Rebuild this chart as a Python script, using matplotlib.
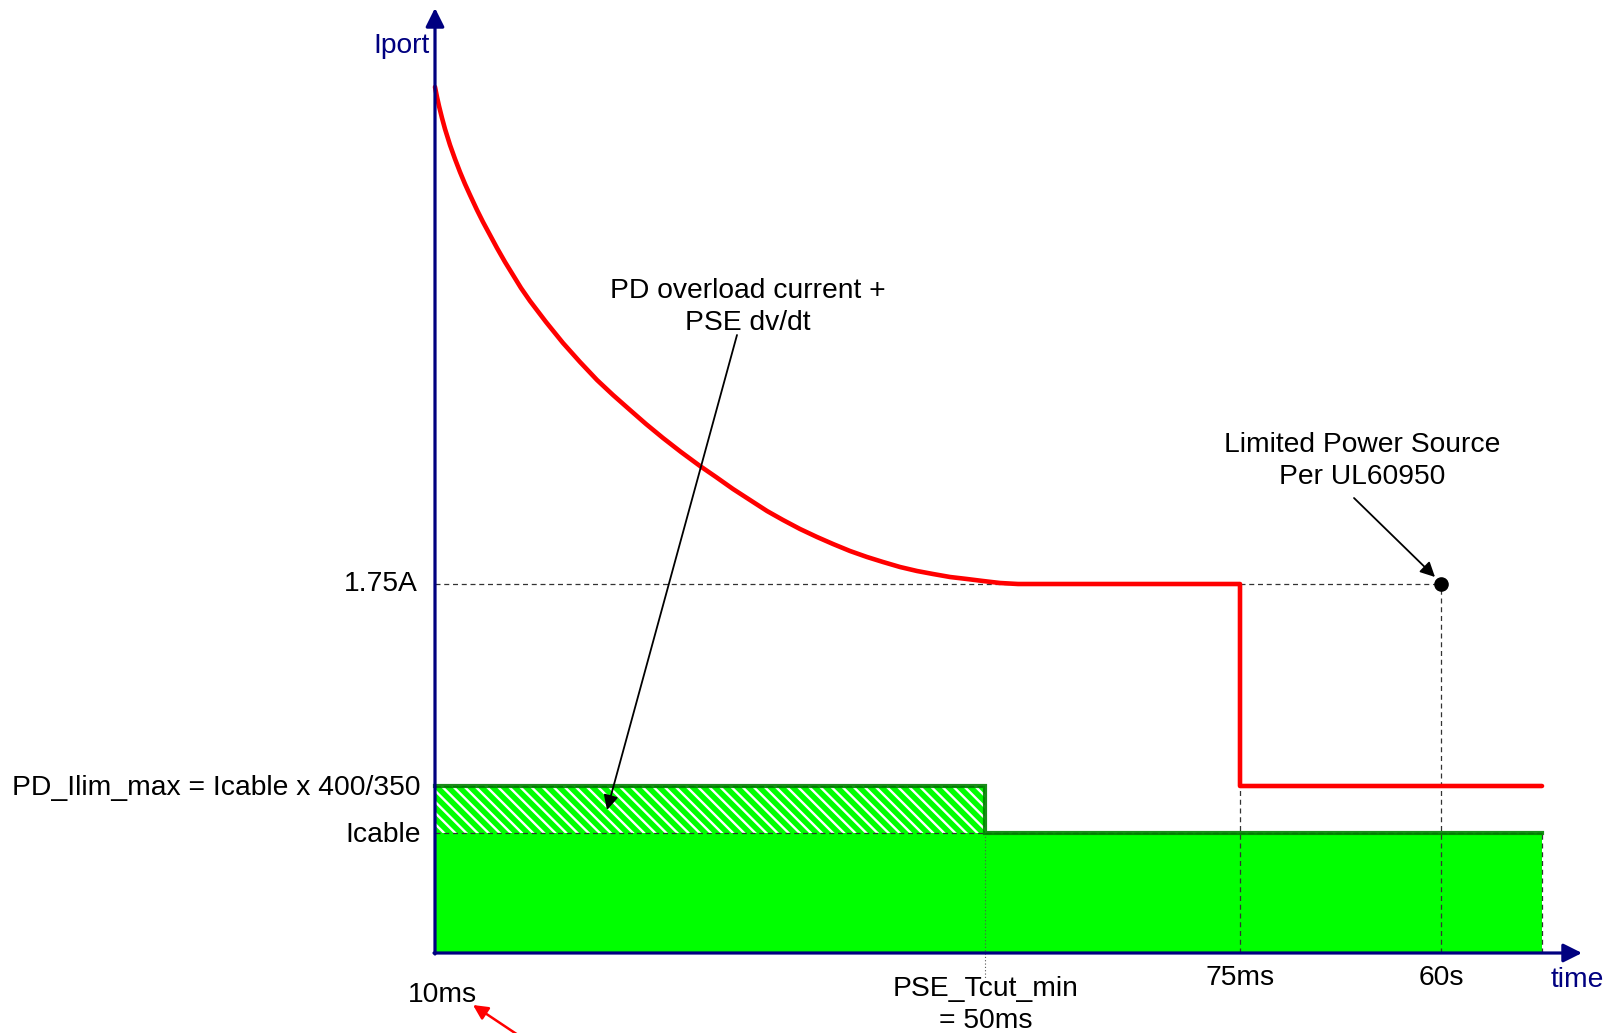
import matplotlib
matplotlib.use("Agg")
import matplotlib.pyplot as plt

plt.rcParams['font.family'] = ['Liberation Sans', 'DejaVu Sans']
plt.rcParams['hatch.linewidth'] = 1.7

# ---- schematic data (time units along x from the Iport axis, current units up from the time axis)
T_10MS = 0
T_CUT = 550          # PSE_Tcut_min = 50ms
T_75 = 805           # 75ms
T_60 = 1006          # 60s
T_END = 1107
I_175 = 369          # 1.75A level
I_PD = 167           # PD_Ilim_max
I_CABLE = 120        # Icable

# red limit curve (decaying part)
curve_t = [0, 2, 4, 7, 10, 15, 20, 25, 30, 35, 42, 48, 55, 62, 70, 78, 86, 95, 111, 128,
           145, 162, 178, 195, 211, 228, 246, 265, 281, 298, 315, 332, 348, 365, 382, 398,
           415, 432, 448, 465, 482, 498, 515, 532, 548, 565, 583, 602]
curve_i = [866, 856, 847, 835, 824, 808, 794, 781, 769, 758, 743, 731, 718, 705, 691, 678,
           665, 652, 631, 610, 591, 573, 558, 543, 529, 515, 501, 487, 476, 464, 453, 442,
           433, 424, 416, 409, 402, 396, 391, 386, 382, 379, 376, 374, 372, 370, 369, 369]

navy = '#000080'
dash_kw = dict(color='#333333', lw=0.9, dashes=(4, 3), zorder=3)

fig = plt.figure(figsize=(16.14, 10.33), dpi=100)
ax = fig.add_axes([0, 0, 1, 1])
ax.set_xlim(-435, 1614 - 435)
ax.set_ylim(-(1033 - 953), 953)
ax.axis('off')

# green fill areas
ax.fill_between([T_10MS, T_END], 0, I_CABLE, color='#00ff00', lw=0, zorder=1)
ax.fill_between([T_10MS, T_CUT], I_CABLE, I_PD, facecolor='#00ff00', edgecolor='white',
                hatch='\\\\\\', lw=0, zorder=1)

# dashed guide lines
ax.plot([T_10MS, T_60], [I_175, I_175], **dash_kw)
ax.plot([T_10MS, T_END], [I_CABLE, I_CABLE], **dash_kw)
ax.plot([T_75, T_75], [0, I_175], **dash_kw)
ax.plot([T_60, T_60], [0, I_175], **dash_kw)
ax.plot([T_END, T_END], [0, I_CABLE], **dash_kw)
ax.plot([T_CUT, T_CUT], [I_CABLE, -25], color='#555555', lw=0.8, dashes=(1, 2), zorder=3)

# green step edge
ax.plot([T_10MS, T_CUT, T_CUT, T_END], [I_PD, I_PD, I_CABLE, I_CABLE], color='#008000', lw=3,
        solid_joinstyle='miter', zorder=4, alpha=0.9)
ax.plot([T_10MS, T_CUT], [I_PD, I_PD], **dash_kw)
ax.plot([T_CUT, T_END], [I_CABLE, I_CABLE], **dash_kw)

# red limit line
red_t = curve_t + [T_75, T_75, T_END]
red_i = curve_i + [I_175, I_PD, I_PD]
ax.plot(red_t, red_i, color='#ff0000', lw=3.3, solid_joinstyle='round',
        solid_capstyle='round', zorder=5)

# LPS point
ax.plot([T_60], [I_175], 'o', color='black', ms=9.5, zorder=6)

# axes with arrows
ax.annotate('', xy=(0, 945), xytext=(0, -1), zorder=7,
            arrowprops=dict(arrowstyle='-|>', color=navy, lw=2.3, mutation_scale=28,
                            shrinkA=0, shrinkB=0))
ax.annotate('', xy=(1147, 0), xytext=(-1, 0), zorder=7,
            arrowprops=dict(arrowstyle='-|>', color=navy, lw=2.3, mutation_scale=28,
                            shrinkA=0, shrinkB=0))

fs = 20.3
ax.text(-5, 907, 'Iport', color=navy, fontsize=fs, ha='right', va='center')
ax.text(1142, -27, 'time', color=navy, fontsize=fs, ha='center', va='center')
ax.text(-17, I_175, '1.75A', fontsize=fs, ha='right', va='center')
ax.text(-14, I_PD - 2, 'PD_Ilim_max = Icable x 400/350', fontsize=fs, ha='right', va='center')
ax.text(-14, I_CABLE - 2, 'Icable', fontsize=fs, ha='right', va='center')
ax.text(7, -42, '10ms', fontsize=fs, ha='center', va='center')
ax.text(T_CUT + 1, -52, 'PSE_Tcut_min\n= 50ms', fontsize=fs, ha='center', va='center',
        linespacing=1.33)
ax.text(T_75, -25, '75ms', fontsize=fs, ha='center', va='center')
ax.text(T_60, -25, '60s', fontsize=fs, ha='center', va='center')
ax.text(313, 646, 'PD overload current +\nPSE dv/dt', fontsize=fs, ha='center', va='center',
        linespacing=1.33)
ax.text(927, 492, 'Limited Power Source\nPer UL60950', fontsize=fs, ha='center', va='center',
        linespacing=1.33)

# annotation arrows
ax.annotate('', xy=(172, 143), xytext=(302, 618), zorder=8,
            arrowprops=dict(arrowstyle='-|>', color='black', lw=1.3, mutation_scale=22,
                            shrinkA=0, shrinkB=0))
ax.annotate('', xy=(1000, 376), xytext=(919, 455), zorder=8,
            arrowprops=dict(arrowstyle='-|>', color='black', lw=1.3, mutation_scale=22,
                            shrinkA=0, shrinkB=0))
ax.annotate('', xy=(38, -52), xytext=(95, -90), zorder=8, annotation_clip=False,
            arrowprops=dict(arrowstyle='-|>', color='#ff0000', lw=1.8, mutation_scale=22,
                            shrinkA=0, shrinkB=0))

fig.savefig('out.png', dpi=100)
